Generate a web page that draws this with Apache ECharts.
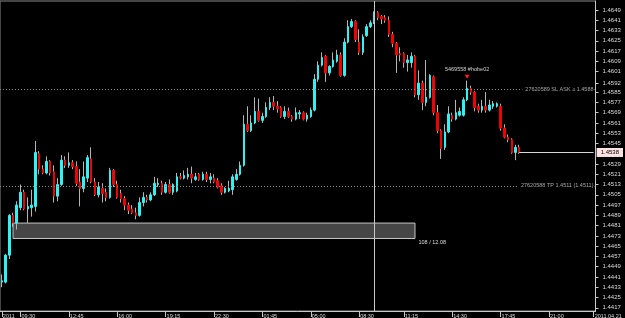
<!DOCTYPE html>
<html>
<head>
<meta charset="utf-8">
<script src="https://cdn.jsdelivr.net/npm/echarts@6/dist/echarts.min.js"></script>
<style>
  html, body { margin: 0; padding: 0; background: #000; }
  #chart { width: 625px; height: 318px; }
</style>
</head>
<body>
<div id="chart"></div>
<script>
// EURUSD M15 bars
const opens = [
  1.4437, 1.4437, 1.4458, 1.4489, 1.4483, 1.4495, 1.4507, 1.4494, 1.4495, 1.4496,
  1.4537, 1.4525, 1.4522, 1.4531, 1.4523, 1.4504, 1.4513, 1.4532, 1.4528, 1.4530,
  1.4527, 1.4515, 1.4510, 1.4518, 1.4533, 1.4515, 1.4505, 1.4510, 1.4507, 1.4503,
  1.4524, 1.4513, 1.4506, 1.4502, 1.4497, 1.4494, 1.4491, 1.4489, 1.4499, 1.4503,
  1.4501, 1.4505, 1.4513, 1.4514, 1.4507, 1.4513, 1.4507, 1.4508, 1.4519, 1.4518,
  1.4519, 1.4521, 1.4517, 1.4521, 1.4517, 1.4521, 1.4517, 1.4518, 1.4516, 1.4512,
  1.4507, 1.4508, 1.4509, 1.4517, 1.4521, 1.4528, 1.4560, 1.4555, 1.4561, 1.4570,
  1.4563, 1.4566, 1.4573, 1.4577, 1.4574, 1.4573, 1.4566, 1.4570, 1.4566, 1.4564,
  1.4568, 1.4569, 1.4564, 1.4566, 1.4571, 1.4595, 1.4606, 1.4613, 1.4600, 1.4605,
  1.4609, 1.4614, 1.4598, 1.4624, 1.4636, 1.4640, 1.4624, 1.4616, 1.4629, 1.4636,
  1.4639, 1.4647, 1.4644, 1.4643, 1.4641, 1.4630, 1.4623, 1.4615, 1.4615, 1.4608,
  1.4608, 1.4613, 1.4583, 1.4592, 1.4577, 1.4581, 1.4597, 1.4569, 1.4555, 1.4542,
  1.4554, 1.4567, 1.4564, 1.4567, 1.4567, 1.4579, 1.4588, 1.4585, 1.4574, 1.4571,
  1.4574, 1.4571, 1.4574, 1.4574, 1.4574, 1.4557, 1.4550, 1.4548, 1.4538, 1.4542
];
const closes = [
  1.4438, 1.4458, 1.4489, 1.4483, 1.4497, 1.4507, 1.4494, 1.4496, 1.4497, 1.4538,
  1.4525, 1.4522, 1.4531, 1.4522, 1.4504, 1.4513, 1.4532, 1.4528, 1.4530, 1.4527,
  1.4514, 1.4510, 1.4519, 1.4534, 1.4515, 1.4505, 1.4511, 1.4506, 1.4503, 1.4524,
  1.4513, 1.4503, 1.4502, 1.4497, 1.4493, 1.4491, 1.4489, 1.4499, 1.4503, 1.4501,
  1.4505, 1.4514, 1.4514, 1.4507, 1.4513, 1.4507, 1.4513, 1.4519, 1.4518, 1.4520,
  1.4521, 1.4518, 1.4519, 1.4517, 1.4521, 1.4517, 1.4519, 1.4515, 1.4511, 1.4507,
  1.4510, 1.4510, 1.4519, 1.4521, 1.4528, 1.4560, 1.4555, 1.4561, 1.4570, 1.4563,
  1.4566, 1.4573, 1.4577, 1.4574, 1.4572, 1.4566, 1.4570, 1.4566, 1.4564, 1.4569,
  1.4569, 1.4564, 1.4567, 1.4571, 1.4595, 1.4606, 1.4612, 1.4600, 1.4605, 1.4610,
  1.4614, 1.4598, 1.4624, 1.4636, 1.4640, 1.4626, 1.4616, 1.4628, 1.4636, 1.4639,
  1.4647, 1.4643, 1.4642, 1.4641, 1.4630, 1.4623, 1.4614, 1.4614, 1.4608, 1.4610,
  1.4613, 1.4583, 1.4592, 1.4577, 1.4581, 1.4598, 1.4569, 1.4555, 1.4541, 1.4554,
  1.4568, 1.4564, 1.4569, 1.4570, 1.4579, 1.4588, 1.4585, 1.4573, 1.4571, 1.4574,
  1.4571, 1.4575, 1.4576, 1.4576, 1.4557, 1.4550, 1.4548, 1.4538, 1.4542, 1.4538
];
const lows = [
  1.4433, 1.4436, 1.4455, 1.4480, 1.4478, 1.4493, 1.4493, 1.4483, 1.4488, 1.4492,
  1.4521, 1.4521, 1.4521, 1.4520, 1.4499, 1.4500, 1.4512, 1.4526, 1.4526, 1.4525,
  1.4512, 1.4496, 1.4507, 1.4515, 1.4514, 1.4504, 1.4503, 1.4499, 1.4500, 1.4502,
  1.4511, 1.4502, 1.4499, 1.4493, 1.4490, 1.4490, 1.4486, 1.4488, 1.4496, 1.4499,
  1.4500, 1.4504, 1.4511, 1.4505, 1.4506, 1.4506, 1.4505, 1.4507, 1.4517, 1.4517,
  1.4517, 1.4514, 1.4516, 1.4516, 1.4516, 1.4515, 1.4514, 1.4514, 1.4510, 1.4505,
  1.4506, 1.4507, 1.4505, 1.4516, 1.4520, 1.4527, 1.4554, 1.4554, 1.4560, 1.4562,
  1.4561, 1.4565, 1.4571, 1.4571, 1.4569, 1.4565, 1.4564, 1.4565, 1.4562, 1.4563,
  1.4564, 1.4563, 1.4562, 1.4565, 1.4570, 1.4593, 1.4605, 1.4593, 1.4598, 1.4604,
  1.4608, 1.4597, 1.4597, 1.4623, 1.4635, 1.4624, 1.4614, 1.4614, 1.4628, 1.4635,
  1.4638, 1.4641, 1.4638, 1.4639, 1.4628, 1.4620, 1.4600, 1.4609, 1.4604, 1.4601,
  1.4604, 1.4581, 1.4579, 1.4571, 1.4574, 1.4580, 1.4567, 1.4553, 1.4533, 1.4540,
  1.4553, 1.4562, 1.4563, 1.4566, 1.4566, 1.4578, 1.4583, 1.4570, 1.4569, 1.4569,
  1.4569, 1.4570, 1.4572, 1.4573, 1.4555, 1.4549, 1.4546, 1.4537, 1.4532, 1.4537
];
const highs = [
  1.4443, 1.4459, 1.4490, 1.4491, 1.4500, 1.4513, 1.4509, 1.4503, 1.4509, 1.4547,
  1.4539, 1.4528, 1.4535, 1.4532, 1.4528, 1.4518, 1.4536, 1.4535, 1.4538, 1.4532,
  1.4531, 1.4525, 1.4531, 1.4536, 1.4542, 1.4518, 1.4515, 1.4514, 1.4510, 1.4526,
  1.4525, 1.4516, 1.4509, 1.4504, 1.4499, 1.4497, 1.4495, 1.4503, 1.4507, 1.4505,
  1.4507, 1.4519, 1.4518, 1.4516, 1.4515, 1.4517, 1.4514, 1.4522, 1.4522, 1.4524,
  1.4526, 1.4527, 1.4522, 1.4522, 1.4523, 1.4523, 1.4522, 1.4521, 1.4518, 1.4514,
  1.4511, 1.4516, 1.4521, 1.4525, 1.4531, 1.4567, 1.4574, 1.4567, 1.4581, 1.4580,
  1.4569, 1.4577, 1.4581, 1.4582, 1.4578, 1.4574, 1.4574, 1.4573, 1.4567, 1.4573,
  1.4571, 1.4570, 1.4569, 1.4573, 1.4599, 1.4609, 1.4616, 1.4614, 1.4606, 1.4616,
  1.4618, 1.4616, 1.4627, 1.4641, 1.4642, 1.4641, 1.4634, 1.4630, 1.4638, 1.4641,
  1.4648, 1.4648, 1.4645, 1.4645, 1.4644, 1.4632, 1.4624, 1.4620, 1.4616, 1.4614,
  1.4616, 1.4614, 1.4602, 1.4594, 1.4610, 1.4599, 1.4598, 1.4575, 1.4556, 1.4560,
  1.4574, 1.4569, 1.4579, 1.4573, 1.4581, 1.4594, 1.4590, 1.4586, 1.4576, 1.4579,
  1.4585, 1.4579, 1.4578, 1.4577, 1.4576, 1.4560, 1.4552, 1.4549, 1.4544, 1.4544
];

// time scale: 160 bar slots, labels on a few of them
const slotCount = 160;
const tickBars = [0, 5, 18, 31, 44, 57, 70, 83, 96, 108, 121, 134, 147, 159];
const tickTimes = ['2011', '09:30', '12:45', '16:00', '19:15', '22:30', '01:45', '05:00', '08:30', '11:15', '14:30', '17:45', '21:00', '2011.04.21'];

// price scale labels as printed on the right
const priceTicks = [1.4649, 1.4641, 1.4633, 1.4625, 1.4617, 1.4609, 1.4601, 1.4592, 1.4585, 1.4577,
  1.4569, 1.4561, 1.4553, 1.4545, 1.4529, 1.4521, 1.4513, 1.4505, 1.4497, 1.4489, 1.4481,
  1.4473, 1.4465, 1.4457, 1.4449, 1.4441, 1.4433, 1.4425, 1.4417];
const priceMin = 1.44145;
const priceMax = 1.46560;

const lastPrice = 1.4538;
const slPrice = 1.4587;
const tpPrice = 1.4512;
const slText = '27620589 SL ASK \u2265 1.4588';
const tpText = '27620588 TP 1.4511 (1.4511)';
const arrowBar = 125;
const arrowPrice = 1.4597;
const arrowText = '5469558 #hobe02';
const boxBars = [3, 111];
const boxPrices = [1.4483, 1.4471];
const boxText = '108 / 12.08';
const vLineBar = 100;

const UP = '#30f2f2', DOWN = '#f00000', WICK = '#b4b4b4', TXT = '#dcdcdc';
const font = 'Liberation Sans';

const slots = [];
for (let i = 0; i < slotCount; i++) slots.push(String(i));
const labelAt = {};
tickBars.forEach((b, i) => { labelAt[b] = tickTimes[i]; });

const full = opens.map((o, i) => [o, closes[i], lows[i], highs[i]]);
const bodies = opens.map((o, i) => [o, closes[i], Math.min(o, closes[i]), Math.max(o, closes[i])]);

const priceLabel = { show: true, position: 'end', formatter: () => lastPrice.toFixed(4), color: '#000',
  backgroundColor: '#ffe2e2', padding: [2, 4, 1, 4], fontSize: 6, fontFamily: font, distance: 3 };
const priceLine = { color: '#d8d8d8', width: 1, type: 'solid' };
const orderLabel = (txt) => ({ show: true, position: 'insideEnd', formatter: txt, color: '#a8a8a8',
  backgroundColor: '#000', padding: [0, 1, 0, 3], fontSize: 5.5, fontFamily: font, distance: 1 });
const orderLine = { color: '#8a8a8a', width: 1, type: [1, 2] };

const chart = echarts.init(document.getElementById('chart'));
chart.setOption({
  animation: false,
  backgroundColor: '#000',
  grid: { left: 0, right: 29.5, top: 1, bottom: 7, containLabel: false, outerBoundsMode: 'none',
    show: true, borderColor: '#8a8a8a', borderWidth: 1 },
  xAxis: {
    type: 'category',
    data: slots,
    boundaryGap: true,
    axisLine: { lineStyle: { color: '#c8c8c8', width: 1 } },
    axisTick: { show: true, alignWithLabel: true, interval: (i) => labelAt[i] !== undefined, length: 6, lineStyle: { color: '#c8c8c8' } },
    axisLabel: {
      interval: (i) => labelAt[i] !== undefined,
      formatter: (v, i) => labelAt[i] || '',
      align: 'left', padding: [0, 0, 0, 1], margin: 2,
      color: TXT, fontSize: 5.5, fontFamily: font
    },
    splitLine: { show: false }
  },
  yAxis: {
    type: 'value',
    position: 'right',
    min: priceMin,
    max: priceMax,
    axisLine: { show: true, lineStyle: { color: '#c8c8c8' } },
    axisTick: { show: true, length: 3, customValues: priceTicks, lineStyle: { color: '#c8c8c8' } },
    axisLabel: { customValues: priceTicks, formatter: (v) => v.toFixed(4), color: TXT, fontSize: 6, margin: 7, fontFamily: font },
    splitLine: { show: false }
  },
  series: [
    {
      type: 'candlestick',
      data: full,
      barWidth: 1,
      itemStyle: { color: WICK, color0: WICK, borderColor: WICK, borderColor0: WICK, borderWidth: 1 }
    },
    {
      type: 'candlestick',
      data: bodies,
      barWidth: 2,
      itemStyle: { color: UP, color0: DOWN, borderColor: UP, borderColor0: DOWN, borderWidth: 1 },
      markLine: {
        silent: true,
        precision: 4,
        symbol: ['none', 'none'],
        data: [
          [
            { coord: [String(opens.length - 1), lastPrice], lineStyle: priceLine, label: priceLabel },
            { coord: [String(slotCount - 1), lastPrice], lineStyle: priceLine, label: priceLabel }
          ],
          { yAxis: slPrice, lineStyle: orderLine, label: orderLabel(slText) },
          { yAxis: tpPrice, lineStyle: orderLine, label: orderLabel(tpText) },
          { xAxis: String(vLineBar), lineStyle: { color: '#c8c8c8', width: 1, type: 'solid' }, label: { show: false } }
        ]
      },
      markArea: {
        silent: true,
        data: [[
          { coord: [String(boxBars[0]), boxPrices[0]],
            itemStyle: { color: 'rgba(128,128,128,0.55)', borderColor: '#c4c4c4', borderWidth: 1 },
            label: { show: true, formatter: boxText, position: ['100%', '100%'], align: 'left', verticalAlign: 'top', offset: [3, 1], color: TXT, fontSize: 5.5, fontFamily: font } },
          { coord: [String(boxBars[1]), boxPrices[1]] }
        ]]
      },
      markPoint: {
        silent: true,
        data: [{
          coord: [String(arrowBar), arrowPrice],
          symbol: 'triangle', symbolRotate: 180, symbolSize: [5, 4],
          itemStyle: { color: '#ff2020' },
          label: { show: true, position: 'top', formatter: arrowText, color: '#d0d0d0', fontSize: 5.5, fontFamily: font, distance: 2 }
        }]
      }
    }
  ]
});
</script>
</body>
</html>
